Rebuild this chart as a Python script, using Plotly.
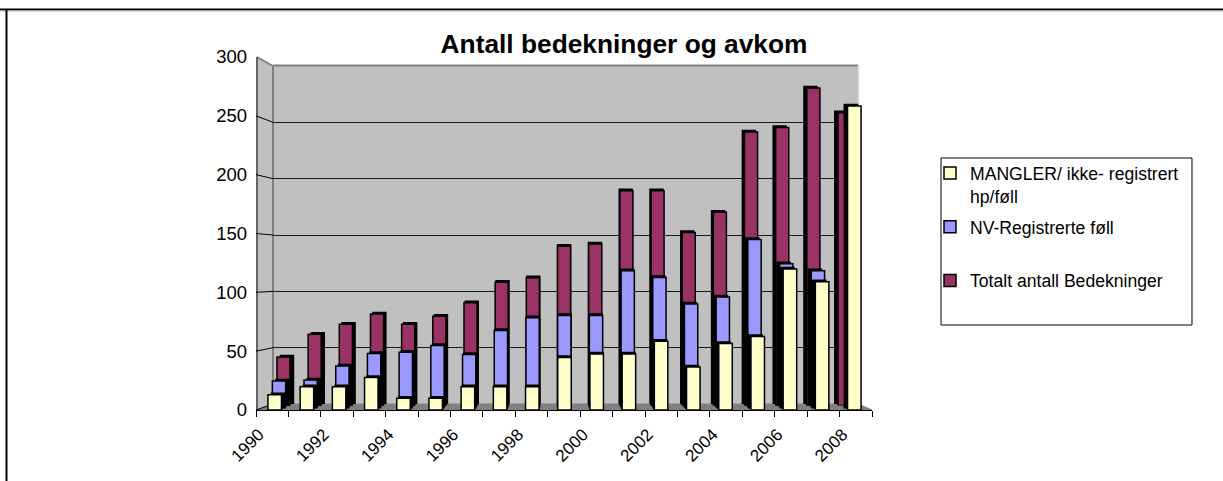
import plotly.graph_objects as go

W, H = 1223, 481
FONT = "Liberation Sans"

years = list(range(1990, 2009))
totalt = [43, 63, 72, 81, 72, 79, 91, 109, 113, 141, 143, 190, 190, 153, 171, 242, 246, 281, 259]
registrerte = [23, 24, 36, 47, 48, 54, 46, 67, 78, 80, 80, 119, 113, 90, 96, 146, 125, 119, None]
mangler = [13, 20, 20, 28, 10, 10, 20, 20, 20, 45, 48, 48, 59, 37, 57, 63, 121, 110, 261]
y_ticks = [0, 50, 100, 150, 200, 250, 300]
x_labels = [str(y) if (y - 1990) % 2 == 0 else "" for y in years] + [""]


def fx(px):
    return px / W


def fy(px):
    return 1 - px / H


def dom_x(c0, w):
    return [fx(c0 - 0.5 * w), fx(c0 + 18.5 * w)]


def dom_y(base, scale):
    return [fy(base), fy(base - 300 * scale)]


fig = go.Figure()
layout = {}
RANGE_X = [1989.5, 2008.5]
RANGE_Y = [0, 300]


def add_axes(n, xd, yd, **yextra):
    sx = "" if n == 1 else str(n)
    layout[f"xaxis{sx}"] = dict(domain=xd, range=RANGE_X, visible=False, fixedrange=True,
                                anchor=f"y{sx}", automargin=False)
    layout[f"yaxis{sx}"] = dict(domain=yd, range=RANGE_Y, visible=False, fixedrange=True,
                                anchor=f"x{sx}", automargin=False, **yextra)
    return f"x{sx}", f"y{sx}"


# back wall subplot: carries only the grid lines
xa, ya = add_axes(1, [fx(273), fx(858)], dom_y(404, 338 / 300))
layout["yaxis"].update(visible=True, showgrid=True, gridcolor="#1a1a1a", gridwidth=1.3,
                       showticklabels=False, ticks="", zeroline=False, showline=False,
                       tickvals=y_ticks)
fig.add_trace(go.Scatter(x=years, y=[None] * len(years), xaxis=xa, yaxis=ya, showlegend=False,
                         hoverinfo="skip"))

BAR_W = 0.42
layers = [
    # name, values, colour, c0, cat width, base px, px per unit
    ("Totalt antall Bedekninger<br> ", totalt, "#993366", 283.5, 31.17, 405.5, 1.13),
    ("NV-Registrerte føll<br> ", registrerte, "#9999FF", 279.0, 31.7, 407.5, 1.15),
    ("MANGLER/ ikke- registrert<br>hp/føll", mangler, "#FFFFCC", 274.7, 32.2, 410.0, 1.165),
]
ranks = {0: 3, 1: 2, 2: 1}
n = 2
for i, (name, vals, color, c0, w, base, sc) in enumerate(layers):
    # dark extruded side: same data on a layer set slightly further back
    xa, ya = add_axes(n, dom_x(c0 + 3.5, w - 0.38), dom_y(base - 1.5, sc))
    fig.add_trace(go.Bar(x=years, y=vals, xaxis=xa, yaxis=ya, width=BAR_W,
                         marker=dict(color="#000000", line=dict(color="#000000", width=1.5)),
                         cliponaxis=False, showlegend=False, hoverinfo="skip"))
    n += 1
    xa, ya = add_axes(n, dom_x(c0, w), dom_y(base, sc))
    fig.add_trace(go.Bar(x=years, y=vals, xaxis=xa, yaxis=ya, width=BAR_W, name=name,
                         legendrank=ranks[i], legendgroup=f"g{i}",
                         marker=dict(color=color, line=dict(color="#000000", width=1.5)),
                         cliponaxis=False))
    n += 1

# labelled front axes
xa, ya = add_axes(8, [fx(256), fx(872)], dom_y(410, 353 / 300))
layout["xaxis8"].update(visible=True, showgrid=False, zeroline=False, showline=True,
                        linecolor="#000000", linewidth=1, ticks="outside", ticklen=6,
                        tickcolor="#000000", tickwidth=1, tickmode="array",
                        tickvals=[y - 0.5 for y in years] + [2008.5], ticktext=x_labels,
                        tickangle=-45, ticklabelshift=3, ticklabelstandoff=1,
                        tickfont=dict(family=FONT, size=17, color="#000000"))
layout["yaxis8"].update(visible=True, showgrid=False, zeroline=False, showline=False,
                        ticks="", tickmode="array", tickvals=y_ticks,
                        ticklabelstandoff=8,
                        tickfont=dict(family=FONT, size=18.5, color="#000000"))
fig.add_trace(go.Scatter(x=years, y=[None] * len(years), xaxis=xa, yaxis=ya, showlegend=False,
                         hoverinfo="skip"))


def poly(pts, fill, line=None, lw=1, layer="below"):
    path = "M" + " L".join(f"{fx(a):.5f},{fy(b):.5f}" for a, b in pts) + " Z"
    return dict(type="path", xref="paper", yref="paper", path=path, fillcolor=fill,
                line=dict(color=line or fill, width=lw), layer=layer)


def seg(x0, y0, x1, y1, color="#000000", lw=1, layer="below"):
    return dict(type="line", xref="paper", yref="paper", x0=fx(x0), y0=fy(y0), x1=fx(x1), y1=fy(y1),
                line=dict(color=color, width=lw), layer=layer)


shapes = [
    poly([(273, 66), (858, 66), (858, 404), (273, 404)], "#C0C0C0"),
    poly([(257, 57), (273, 66), (273, 404), (257, 410)], "#C0C0C0"),
    poly([(257, 410), (273, 404), (858, 404), (872, 410)], "#808080"),
    seg(273, 65.5, 858, 65.5, "#808080", 2),
    seg(273, 66, 273, 404, "#808080", 2),
    seg(257, 57, 273, 66, "#808080", 2),
    seg(858.5, 66, 858.5, 404, "#DDDDDD", 1.5),
    seg(257, 57, 257, 410, "#404040", 1.5),
    # outer frame
    seg(0, 9.5, W, 9.5, "#000000", 2),
    seg(0, 11, W, 11, "#BBBBBB", 1),
    seg(6.5, 9.5, 6.5, H, "#000000", 2),
    # legend box
    poly([(941, 158), (1192, 158), (1192, 325), (941, 325)], "#FFFFFF", "#000000", 1),
]
for v in y_ticks[:-1]:
    shapes.append(seg(256, 410 - v * 353 / 300, 273, 404 - v * 338 / 300, "#000000", 1))

fig.update_layout(
    width=W, height=H,
    autosize=False,
    margin=dict(l=0, r=0, t=0, b=0),
    paper_bgcolor="#FFFFFF",
    plot_bgcolor="rgba(0,0,0,0)",
    barmode="overlay",
    shapes=shapes,
    title=dict(text="<b>Antall bedekninger og avkom</b>", x=624 / W, y=fy(44), xanchor="center",
               yanchor="middle", xref="paper", yref="paper", automargin=False,
               font=dict(family=FONT, size=26.3, color="#000000")),
    legend=dict(x=fx(930), y=fy(155), xanchor="left", yanchor="top", valign="top",
                bgcolor="rgba(0,0,0,0)", borderwidth=0,
                font=dict(family=FONT, size=17.6, color="#000000"),
                tracegroupgap=5,
                itemclick=False, itemdoubleclick=False),
    showlegend=True,
    **layout,
)
fig.write_html("out.html", config={"displayModeBar": False},
               post_script="document.body.style.margin='0';document.documentElement.style.overflow='hidden';")
